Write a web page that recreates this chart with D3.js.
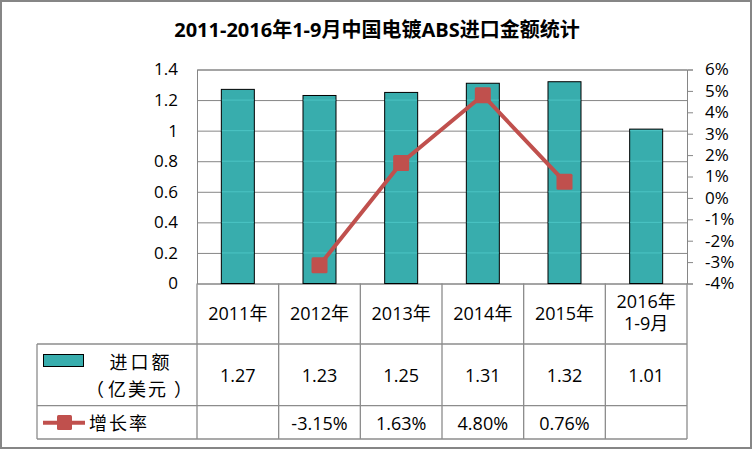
<!DOCTYPE html>
<html><head><meta charset="utf-8">
<script src="https://cdn.jsdelivr.net/npm/d3@7/dist/d3.min.js"></script>
<style>body{margin:0;background:#fff}svg{display:block}</style>
</head><body>
<svg id="c" width="753" height="450"></svg>
<script>
const title = "2011-2016年1-9月中国电镀ABS进口金额统计";
const categories = ["2011年","2012年","2013年","2014年","2015年","2016年\n1-9月"];
const importValues = [1.27,1.23,1.25,1.31,1.32,1.01];
const growthRates = [null,-3.15,1.63,4.80,0.76,null];
const leftTicks = [0,0.2,0.4,0.6,0.8,1,1.2,1.4];
const rightTicks = [-4,-3,-2,-1,0,1,2,3,4,5,6];
const seriesNames = ["进口额","（亿美元）","增长率"];

const FONT = "'Open Sans','Noto Sans CJK SC',sans-serif";
const CJK = "'Noto Sans CJK SC',sans-serif";
const teal = "#38adad", red = "#c0504d", grid = "#868686";
const svg = d3.select("#c");

svg.append("rect").attr("x",1).attr("y",1).attr("width",750).attr("height",447)
  .attr("fill","#fff").attr("stroke",grid).attr("stroke-width",2);

svg.append("text").attr("x",377).attr("y",29).attr("text-anchor","middle")
  .attr("dominant-baseline","central").attr("font-family",FONT)
  .attr("font-weight","bold").attr("font-size",20).attr("fill","#000").text(title);

const L=197, R=687, T=69.5, B=283.5;
const x = d3.scaleBand().domain(categories).range([L,R]).padding(0);
const y = d3.scaleLinear().domain([0,1.4]).range([B,T]);
const y2 = d3.scaleLinear().domain([-4,6]).range([B,T]);

const ga = svg.append("g").attr("transform",`translate(${L},0)`)
  .call(d3.axisLeft(y).tickValues(leftTicks).tickSize(-(R-L)).tickPadding(19)
  .tickFormat(d=>d3.format("")(+d.toFixed(1))));
ga.select(".domain").attr("stroke",grid);
ga.selectAll(".tick line").attr("stroke",grid);
ga.selectAll("text").attr("font-family",FONT).attr("font-size",17).attr("fill","#000");

const gr = svg.append("g").attr("transform",`translate(${R},0)`)
  .call(d3.axisRight(y2).tickValues(rightTicks).tickSize(6).tickPadding(12).tickFormat(d=>d+"%"));
gr.select(".domain").attr("stroke",grid);
gr.selectAll(".tick line").attr("stroke",grid);
gr.selectAll("text").attr("font-family",FONT).attr("font-size",17).attr("fill","#000");

const bw = x.bandwidth()*0.404;
svg.append("g").selectAll("rect").data(importValues).join("rect")
  .attr("x",(d,i)=>x(categories[i])+x.bandwidth()/2-bw/2)
  .attr("y",d=>y(d)).attr("width",bw).attr("height",d=>y(0)-y(d))
  .attr("fill",teal).attr("stroke","#000").attr("stroke-width",1);

importValues.forEach((v,i)=>{
  const x0 = x(categories[i])+x.bandwidth()/2-bw/2;
  leftTicks.filter(t=>t>0 && t<v).forEach(t=>{
    svg.append("line").attr("x1",x0+0.5).attr("x2",x0+bw-0.5).attr("y1",y(t)).attr("y2",y(t))
      .attr("stroke","#4cc4c4").attr("stroke-width",1);
  });
});

const pts = growthRates.map((d,i)=>({d,i})).filter(p=>p.d!==null);
svg.append("path").datum(pts)
  .attr("d",d3.line().x(p=>x(categories[p.i])+x.bandwidth()/2).y(p=>y2(p.d)))
  .attr("fill","none").attr("stroke",red).attr("stroke-width",4).attr("stroke-linejoin","round");
const ms=16;
svg.append("g").selectAll("rect").data(pts).join("rect")
  .attr("x",p=>x(categories[p.i])+x.bandwidth()/2-ms/2).attr("y",p=>y2(p.d)-ms/2)
  .attr("width",ms).attr("height",ms).attr("rx",1.5).attr("fill",red);

const tl = "#8c8c8c";
const rowY = [B,344,405.7,439];
const TL=37;
const tg = svg.append("g").attr("stroke",tl).attr("stroke-width",1.3);
categories.forEach((c,i)=>{
  tg.append("line").attr("x1",x(c)).attr("x2",x(c)).attr("y1",B).attr("y2",rowY[3]);
});
tg.append("line").attr("x1",R).attr("x2",R).attr("y1",B).attr("y2",rowY[3]);
tg.append("line").attr("x1",TL).attr("x2",TL).attr("y1",rowY[1]).attr("y2",rowY[3]);
[1,2,3].forEach(k=>tg.append("line").attr("x1",TL).attr("x2",R).attr("y1",rowY[k]).attr("y2",rowY[k]));

categories.forEach((c,i)=>{
  const lines=c.split("\n");
  const cx=x(c)+x.bandwidth()/2;
  const cy=lines.length===1?[313]:[300.7,323.3];
  lines.forEach((ln,k)=>svg.append("text").attr("x",cx).attr("y",cy[k])
    .attr("text-anchor","middle").attr("dominant-baseline","central")
    .attr("font-family",FONT).attr("font-size",18).attr("fill","#000").text(ln));
});
importValues.forEach((v,i)=>{
  svg.append("text").attr("x",x(categories[i])+x.bandwidth()/2).attr("y",375)
    .attr("text-anchor","middle").attr("dominant-baseline","central")
    .attr("font-family",FONT).attr("font-size",18).attr("fill","#000").text(v.toFixed(2));
});
growthRates.forEach((v,i)=>{
  if(v===null) return;
  svg.append("text").attr("x",x(categories[i])+x.bandwidth()/2).attr("y",422.7)
    .attr("text-anchor","middle").attr("dominant-baseline","central")
    .attr("font-family",FONT).attr("font-size",18).attr("fill","#000").text(v.toFixed(2)+"%");
});

// legend
svg.append("rect").attr("x",43.5).attr("y",354.5).attr("width",40).attr("height",12)
  .attr("fill",teal).attr("stroke","#000").attr("stroke-width",1);
svg.append("text").attr("x",141).attr("y",361).attr("text-anchor","middle")
  .attr("dominant-baseline","central").attr("font-family",CJK).attr("font-size",18)
  .attr("letter-spacing",3).attr("fill","#000").text(seriesNames[0]);
const unit = seriesNames[1];
const ut = svg.append("text").attr("y",388).attr("dominant-baseline","central")
  .attr("font-family",CJK).attr("font-size",18).attr("fill","#000");
ut.append("tspan").attr("x",86).text(unit.slice(0,1));
ut.append("tspan").attr("x",108).attr("letter-spacing",2).text(unit.slice(1,-1));
ut.append("tspan").attr("x",174).text(unit.slice(-1));
svg.append("line").attr("x1",43).attr("x2",85).attr("y1",422.7).attr("y2",422.7)
  .attr("stroke",red).attr("stroke-width",4);
svg.append("rect").attr("x",57).attr("y",415).attr("width",15).attr("height",15).attr("rx",1.5).attr("fill",red);
svg.append("text").attr("x",89).attr("y",422).attr("dominant-baseline","central")
  .attr("font-family",CJK).attr("font-size",18).attr("letter-spacing",2)
  .attr("fill","#000").text(seriesNames[2]);
</script>
</body></html>
